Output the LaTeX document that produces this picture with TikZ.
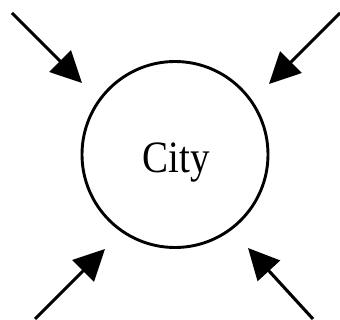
\documentclass[tikz,border=0pt]{standalone}
\usepackage{fontspec}
\setmainfont{Liberation Serif}
\usepackage{graphicx}
\usepackage{tikz}
\usetikzlibrary{arrows.meta}

\begin{document}
\begin{tikzpicture}[x=1pt,y=-1pt,
    inflow/.style={line width=3.1pt,-{Triangle[length=31pt,width=30pt]}}]
  \useasboundingbox (0,0) rectangle (340,320);
  % 城市
  \node[draw,circle,line width=2.9pt,minimum size=186pt,inner sep=0pt] (city) at (175,154.5) {};
  \node[anchor=base,font=\fontsize{39}{41}\selectfont] (citytext) at (176,172.3) {\scalebox{1}[1.15]{City}};
  % 四个方向的流入
  \coordinate (tlstart) at (12,13);   \coordinate (tlend) at (82,83);
  \coordinate (trstart) at (340,13);  \coordinate (trend) at (269,84);
  \coordinate (blstart) at (35,319);  \coordinate (blend) at (105,249);
  \coordinate (brstart) at (313,319); \coordinate (brend) at (248,248);
  \draw[inflow] (tlstart) -- (tlend);
  \draw[inflow] (trstart) -- (trend);
  \draw[inflow] (blstart) -- (blend);
  \draw[inflow] (brstart) -- (brend);
\end{tikzpicture}
\end{document}
